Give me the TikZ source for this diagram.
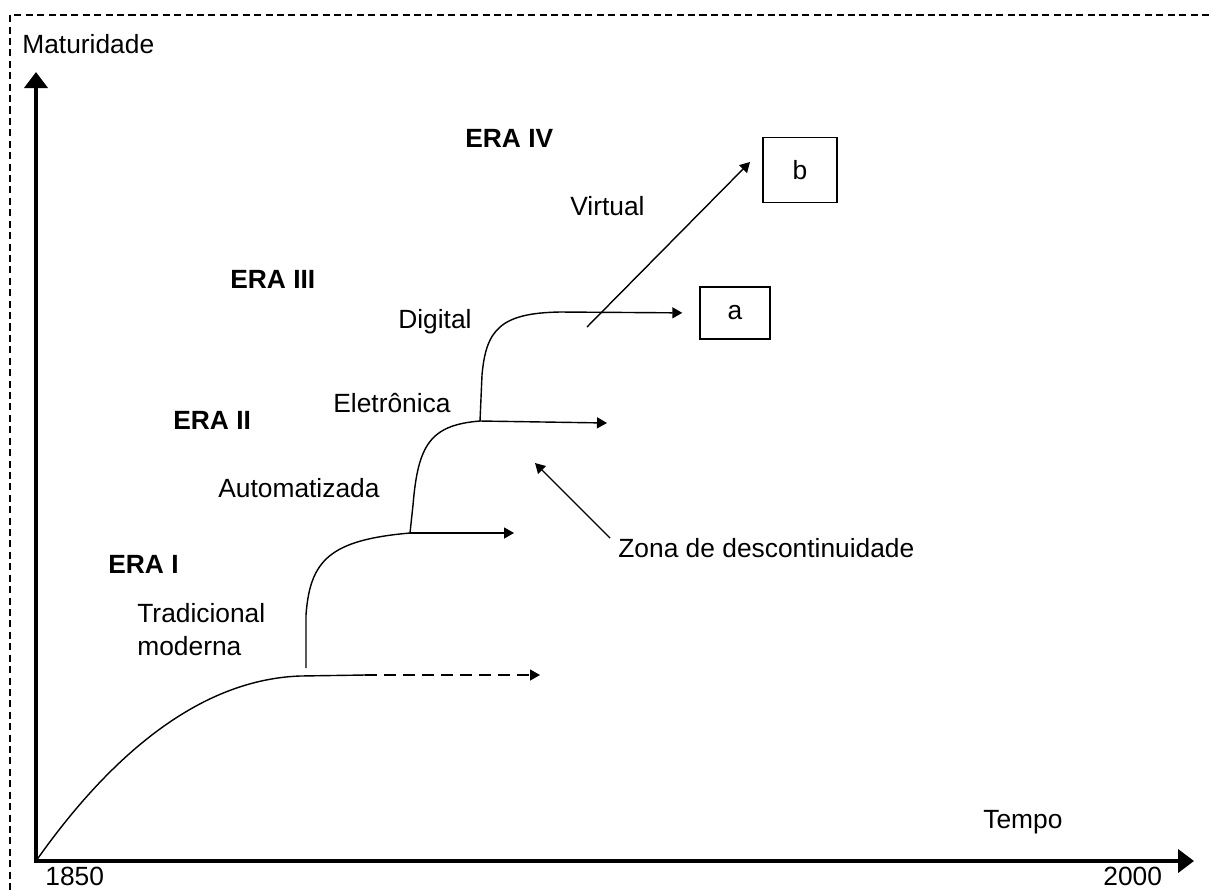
\documentclass[tikz,border=0pt]{standalone}
\usepackage{fontspec}
\setmainfont{Liberation Sans}
\usetikzlibrary{arrows.meta}
\tikzset{
  frame/.style={line width=1.1pt,dash pattern=on 4pt off 2.5pt},
  axis/.style={line width=2.8pt,{Triangle[length=3.2mm,width=4.6mm]}-{Triangle[length=3.2mm,width=4.6mm]}},
  arr/.style={line width=0.8pt,-{Triangle[length=2mm,width=2.2mm]}},
  curve/.style={line width=0.8pt},
  lab/.style={font=\fontsize{15}{19}\selectfont,inner sep=0pt,anchor=base west},
  era/.style={lab,font=\fontsize{15}{19}\selectfont\bfseries},
  box/.style={draw,line width=0.8pt,font=\fontsize{15}{19}\selectfont}
}
\begin{document}
\begin{tikzpicture}[x=0.02cm,y=-0.02cm]
  \useasboundingbox (0,0) rectangle (1209,890);
  \draw[frame] (1209,15) -- (10,15) -- (10,890);

  \coordinate (o) at (36,861);
  \coordinate (ytip) at (36,72);
  \coordinate (xtip) at (1194,861);
  \draw[axis] (ytip) -- (o) -- (xtip);

  \node[lab] (mat) at (22,53) {Maturidade};
  \node[lab] (t1850) at (45,885) {1850};
  \node[lab] (t2000) at (1103,885) {2000};
  \node[lab] (tempo) at (983,828) {Tempo};

  \node[era] (eraI) at (108,573) {ERA I};
  \node[era] (eraII) at (173,429) {ERA II};
  \node[era] (eraIII) at (230,288) {ERA III};
  \node[era] (eraIV) at (465,147) {ERA IV};

  \node[lab,anchor=north west,align=left] (trad) at (137,603) {Tradicional\\moderna};
  \node[lab] (auto) at (218,497) {Automatizada};
  \node[lab] (elet) at (333,412) {Eletrônica};
  \node[lab] (dig) at (398,328) {Digital};
  \node[lab] (virt) at (570,215) {Virtual};
  \node[lab] (zona) at (618,557) {Zona de descontinuidade};

  \node[box,minimum width=1.4cm,minimum height=1.04cm] (a) at (735,313) {a};
  \node[box,minimum width=1.48cm,minimum height=1.3cm] (b) at (800,170) {b};

  \coordinate (k1) at (300,676);
  \coordinate (k1s) at (365,675);
  \coordinate (k1e) at (540,675);
  \coordinate (r1) at (306,668);
  \coordinate (k2) at (410,533);
  \coordinate (e2) at (514,533);
  \coordinate (k3) at (480,421);
  \coordinate (e3) at (607,423);
  \coordinate (k4) at (560,312);
  \coordinate (v0) at (587,327);
  \coordinate (vtip) at (750,162);
  \coordinate (z0) at (610,538);
  \coordinate (zt) at (535,463);

  \draw[curve] (o) .. controls (100,770) and (190,680) .. (k1) -- (k1s);
  \draw[arr,dash pattern=on 6.8pt off 4pt] (k1s) -- (k1e);
  \draw[curve] (r1) -- (306,615) .. controls (310,560) and (330,540) .. (k2);
  \draw[arr] (k2) -- (e2);
  \draw[curve] (k2) -- (413,505) .. controls (418,445) and (430,425) .. (k3);
  \draw[arr] (k3) -- (e3);
  \draw[curve] (k3) -- (482,375) .. controls (486,330) and (500,313) .. (k4);
  \draw[arr,shorten >=0.34cm] (k4) -- (a.west);
  \draw[arr] (v0) -- (vtip);
  \draw[arr] (z0) -- (zt);
\end{tikzpicture}
\end{document}
